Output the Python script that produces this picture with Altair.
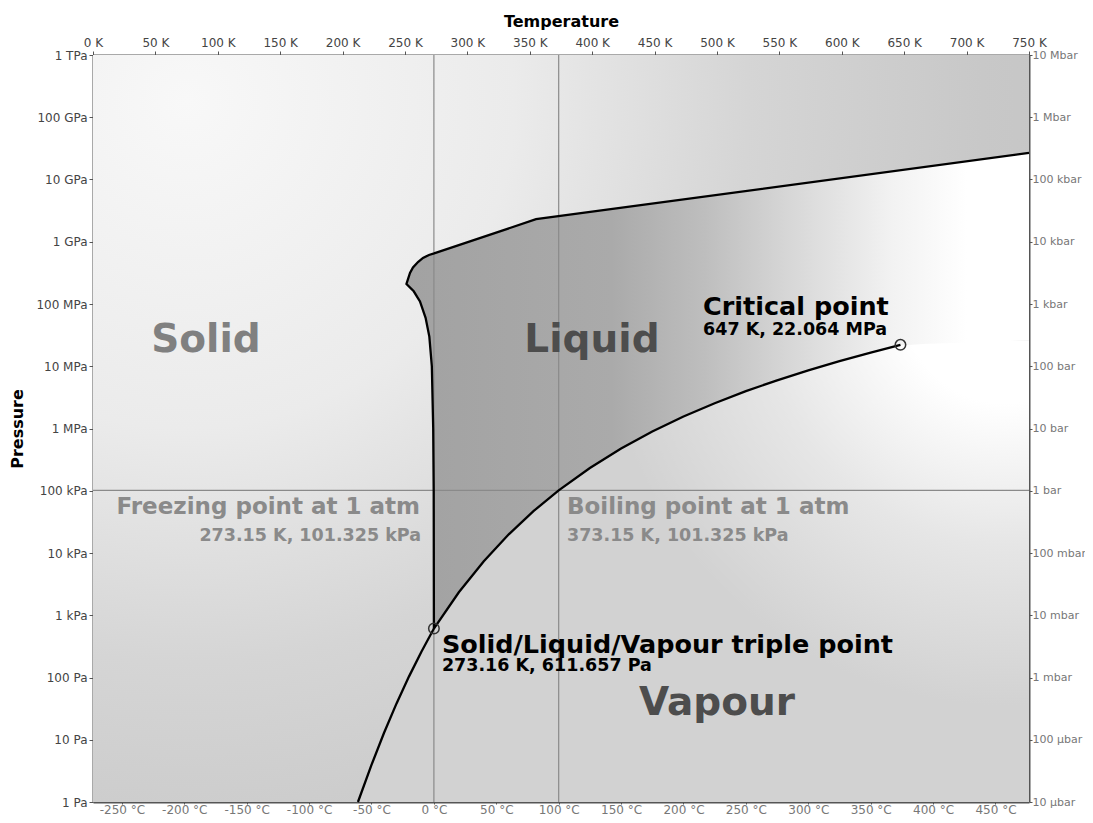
import json
import altair as alt
import pandas as pd

# ---------------- axis tick values / labels ----------------
k_ticks = list(range(0, 751, 50))                 # top axis, kelvin
c_ticks = list(range(-250, 451, 50))              # bottom axis, celsius
pa_ticks = [10.0 ** e for e in range(0, 13)]      # left / right axis, pascal
pa_labels = ["1 Pa", "10 Pa", "100 Pa", "1 kPa", "10 kPa", "100 kPa", "1 MPa",
             "10 MPa", "100 MPa", "1 GPa", "10 GPa", "100 GPa", "1 TPa"]
bar_labels = ["10 µbar", "100 µbar", "1 mbar", "10 mbar", "100 mbar", "1 bar",
              "10 bar", "100 bar", "1 kbar", "10 kbar", "100 kbar", "1 Mbar", "10 Mbar"]

# ---------------- phase boundaries (T in K, P in Pa) ----------------
sub_T = [212.3, 223.15, 233.15, 243.15, 253.15, 263.15, 273.16]
sub_P = [1.0, 3.94, 12.84, 38.0, 103.3, 259.9, 611.657]

vap_T = [273.16, 293.15, 313.15, 333.15, 353.15, 373.15, 398.15, 423.15, 448.15,
         473.15, 498.15, 523.15, 548.15, 573.15, 598.15, 623.15, 647.0]
vap_P = [611.657, 2339, 7384, 19946, 47414, 101325, 232200, 476200, 892400,
         1555000, 2550000, 3976000, 5942000, 8588000, 12045000, 16529000, 22064000]

melt_T = [273.16, 273.0, 272.6, 271.5, 269.5, 266.5, 262.0, 257.0, 251.165]
melt_P = [611.657, 1.0e5, 1.0e6, 1.0e7, 3.0e7, 6.0e7, 1.1e8, 1.6e8, 2.099e8]

ice_T = [251.165, 254.0, 256.4, 260.4, 264.4, 269.2, 273.31, 355.0, 750.0]
ice_P = [2.099e8, 3.15e8, 3.86e8, 4.73e8, 5.49e8, 6.13e8, 6.5e8, 2.3e9, 2.67e10]

crit_T, crit_P = 647.0, 22.064e6
triple_T, triple_P = 273.16, 611.657
supercrit_edge_P = 2.6e7   # vapour shading reaches a little above Pc at the right edge

# reference lines
ref_T = [273.15, 373.15]
ref_P = [101325.0]

# ---------------- annotations (anchor in K / Pa) ----------------
region_text = ["Solid", "Liquid", "Vapour"]
region_T = [90.5, 399.8, 500.0]
region_P = [2.64e7, 2.64e7, 38.9]

# ---------------- scales ----------------
xs = alt.Scale(domain=[0, 750], nice=False, zero=False)
ys = alt.Scale(type="log", domain=[1, 1e12], nice=False)

FONT = "DejaVu Sans"

top_axis = alt.Axis(orient="top", values=k_ticks, labelExpr="datum.value + ' K'",
                    title="Temperature", titlePadding=7, labelPadding=2,
                    labelOverlap=False, labelFlush=False, labelColor="#444")
left_axis = alt.Axis(orient="left", values=pa_ticks,
                     labelExpr=json.dumps(pa_labels) + "[round(log(datum.value)/LN10)]",
                     title="Pressure", titlePadding=10, labelOverlap=False,
                     labelFlush=False, labelColor="#444")
bottom_axis = alt.Axis(orient="bottom", values=[c + 273.15 for c in c_ticks],
                       labelExpr="round(datum.value - 273.15) + ' °C'",
                       title=None, labelOverlap=False, labelFlush=False,
                       labelColor="#777", tickSize=2, labelPadding=0)
right_axis = alt.Axis(orient="right", values=pa_ticks,
                      labelExpr=json.dumps(bar_labels) + "[round(log(datum.value)/LN10)]",
                      title=None, labelOverlap=False, labelFlush=False,
                      labelColor="#777", labelFontSize=11, tickSize=3, labelPadding=0)


def X(field, axis=None):
    return alt.X(field, type="quantitative", scale=xs, axis=axis)


def Y(field, axis=None):
    return alt.Y(field, type="quantitative", scale=ys, axis=axis)


# ---------------- background (solid) ----------------
bg_grad = alt.RadialGradient(
    gradient="radial", x1=0.1, y1=0.15, r1=0, x2=0.1, y2=0.15, r2=1,
    stops=[alt.GradientStop(color="#f8f8f8", offset=0),
           alt.GradientStop(color="#ebebeb", offset=0.35),
           alt.GradientStop(color="#d5d5d5", offset=0.6),
           alt.GradientStop(color="#c8c8c8", offset=0.85),
           alt.GradientStop(color="#c4c4c4", offset=1)])
bg_df = pd.DataFrame({"T0": [0.0], "T1": [750.0], "P0": [1.0], "P1": [1e12]})
bg = alt.Chart(bg_df).mark_rect(fill=bg_grad).encode(
    x=X("T0", top_axis), x2="T1", y=Y("P0", left_axis), y2="P1")

# ---------------- liquid polygon ----------------
liquid_T = melt_T + ice_T[1:] + [750.0] + vap_T[::-1]
liquid_P = melt_P + ice_P[1:] + [crit_P] + vap_P[::-1]
liq_df = pd.DataFrame({"T": liquid_T, "P": liquid_P, "i": range(len(liquid_T))})
liq_grad = alt.LinearGradient(
    gradient="linear", x1=0, y1=0, x2=1, y2=0,
    stops=[alt.GradientStop(color="#a2a2a2", offset=0),
           alt.GradientStop(color="#aaaaaa", offset=0.33),
           alt.GradientStop(color="#bebebe", offset=0.48),
           alt.GradientStop(color="#d6d6d6", offset=0.61),
           alt.GradientStop(color="#f2f2f2", offset=0.78),
           alt.GradientStop(color="#ffffff", offset=0.9),
           alt.GradientStop(color="#ffffff", offset=1)])
liquid = alt.Chart(liq_df).mark_line(fill=liq_grad, strokeOpacity=0).encode(
    x=X("T"), y=Y("P"), order="i:Q")

# ---------------- vapour polygon (drawn after liquid) ----------------
vapour_T = sub_T + vap_T[1:] + [750.0, 750.0]
vapour_P = sub_P + vap_P[1:] + [supercrit_edge_P, 1.0]
vap_df = pd.DataFrame({"T": vapour_T, "P": vapour_P, "i": range(len(vapour_T))})
vap_grad = alt.RadialGradient(
    gradient="radial", x1=0.964, y1=0.1, r1=0, x2=0.964, y2=0.1, r2=0.6,
    stops=[alt.GradientStop(color="#ffffff", offset=0),
           alt.GradientStop(color="#ffffff", offset=0.25),
           alt.GradientStop(color="#e6e6e6", offset=0.6),
           alt.GradientStop(color="#d2d2d2", offset=1)])
vapour = alt.Chart(vap_df).mark_line(fill=vap_grad, strokeOpacity=0).encode(
    x=X("T", bottom_axis), y=Y("P", right_axis), order="i:Q")

# ---------------- reference rules ----------------
vrules = alt.Chart(pd.DataFrame({"T": ref_T})).mark_rule(
    color="#8a8a8a", strokeWidth=1.2).encode(x=X("T"))
hrules = alt.Chart(pd.DataFrame({"P": ref_P})).mark_rule(
    color="#8a8a8a", strokeWidth=1.2).encode(y=Y("P"))

# ---------------- boundary curves ----------------
gas_T = sub_T + vap_T[1:]
gas_P = sub_P + vap_P[1:]
gas_df = pd.DataFrame({"T": gas_T, "P": gas_P, "i": range(len(gas_T))})
solid_T = melt_T + ice_T[1:]
solid_P = melt_P + ice_P[1:]
solid_df = pd.DataFrame({"T": solid_T, "P": solid_P, "i": range(len(solid_T))})

gas_line = alt.Chart(gas_df).mark_line(color="black", strokeWidth=2.3).encode(
    x=X("T"), y=Y("P"), order="i:Q")
solid_line = alt.Chart(solid_df).mark_line(color="black", strokeWidth=2.3).encode(
    x=X("T"), y=Y("P"), order="i:Q")

pts = alt.Chart(pd.DataFrame({"T": [crit_T, triple_T], "P": [crit_P, triple_P]})).mark_point(
    shape="circle", size=110, filled=False, stroke="#333", strokeWidth=1.5, opacity=1).encode(
    x=X("T"), y=Y("P"))


# ---------------- text ----------------
def text_layer(texts, Ts, Ps, size, color, align):
    df = pd.DataFrame({"label": texts, "T": Ts, "P": Ps})
    return alt.Chart(df).mark_text(font=FONT, fontWeight="bold", fontSize=size, color=color,
                                   align=align, baseline="middle").encode(
        x=X("T"), y=Y("P"), text="label:N")


t_solid = text_layer(region_text[:1], region_T[:1], region_P[:1], 39, "#808080", "center")
t_lv = text_layer(region_text[1:], region_T[1:], region_P[1:], 39, "#4d4d4d", "center")

t_crit = text_layer(["Critical point"], [488.8], [8.95e7], 25.5, "black", "left")
t_crit2 = text_layer(["647 K, 22.064 MPa"], [488.8], [3.82e7], 17.5, "black", "left")

t_freeze = text_layer(["Freezing point at 1 atm"], [262.0], [5.48e4], 23, "#8a8a8a", "right")
t_freeze2 = text_layer(["273.15 K, 101.325 kPa"], [262.8], [1.876e4], 17.5, "#8a8a8a", "right")
t_boil = text_layer(["Boiling point at 1 atm"], [379.8], [5.48e4], 23, "#8a8a8a", "left")
t_boil2 = text_layer(["373.15 K, 101.325 kPa"], [379.8], [1.876e4], 17.5, "#8a8a8a", "left")

t_triple = text_layer(["Solid/Liquid/Vapour triple point"], [279.6], [330.0], 25.5, "black", "left")
t_triple2 = text_layer(["273.16 K, 611.657 Pa"], [279.6], [152.0], 17.5, "black", "left")

chart = alt.layer(
    bg, liquid, vapour, vrules, hrules, gas_line, solid_line, pts,
    t_solid, t_lv, t_crit, t_crit2, t_freeze, t_freeze2, t_boil, t_boil2, t_triple, t_triple2
).resolve_axis(x="independent", y="independent").properties(
    width=936, height=747,
    padding={"left": 85, "top": 47, "right": 56, "bottom": 13},
    autosize=alt.AutoSizeParams(type="none"),
).configure_view(strokeOpacity=0).configure_axis(
    grid=False, domainColor="#555", domainWidth=2, tickColor="#555", tickSize=4,
    labelFont=FONT, labelFontSize=12, labelPadding=2,
    titleFont=FONT, titleFontWeight="bold", titleFontSize=16, titleColor="black",
)

chart.save("out.html", embed_options={"renderer": "svg", "actions": False})
